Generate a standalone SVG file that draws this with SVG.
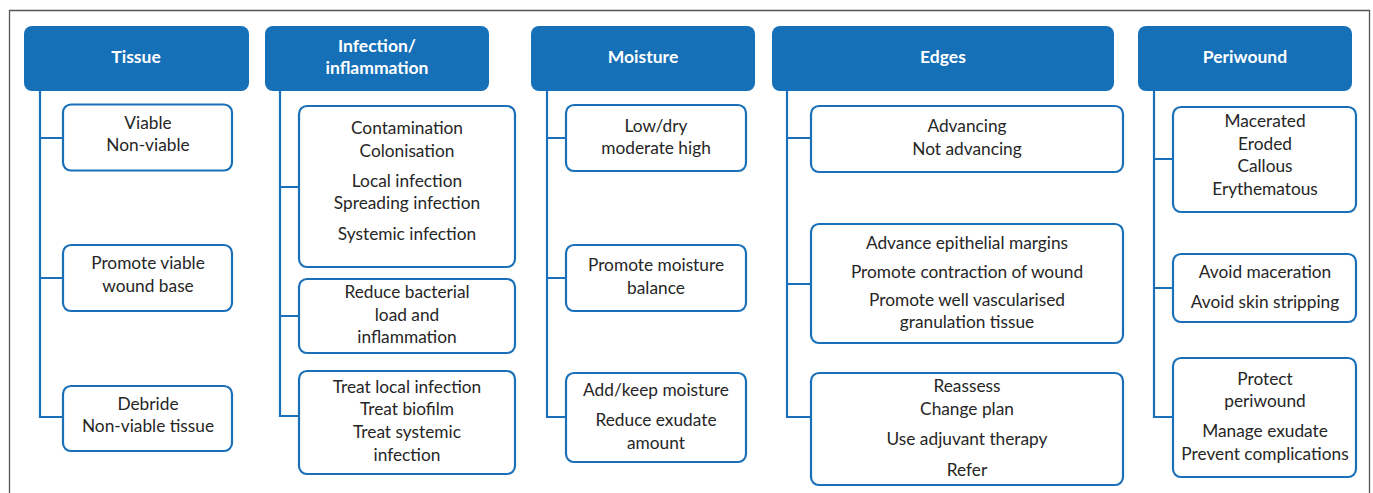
<svg xmlns="http://www.w3.org/2000/svg" width="1373" height="493" viewBox="0 0 1373 493">
<style>
.frame{fill:none;stroke:#555;stroke-width:1.3}
.hdr{fill:#1570b8}
.ht{fill:#fff;font-family:Lato,"Open Sans",sans-serif;font-weight:bold;font-size:17.5px;text-anchor:middle;dominant-baseline:central}
.box{fill:#fff;stroke:#1a70b8;stroke-width:2.2}
.t{fill:#262626;font-family:Lato,"Open Sans",sans-serif;font-size:17.3px;text-anchor:middle;dominant-baseline:central}
.c{fill:none;stroke:#1a70b8;stroke-width:2.2}
</style>
<rect width="1373" height="493" fill="#fff"/>
<path class="frame" d="M9.5 500 V10.5 H1369.5 V500"/>
<g id="connectors">
<path class="c" d="M40 90 V417 H63 M40 138 H63 M40 278 H63"/>
<path class="c" d="M280 90 V416 H299 M280 187 H299 M280 316 H299"/>
<path class="c" d="M547 90 V417 H566 M547 138 H566 M547 278 H566"/>
<path class="c" d="M787 90 V417 H811 M787 138 H811 M787 284 H811"/>
<path class="c" d="M1154 90 V417 H1173 M1154 159 H1173 M1154 288 H1173"/>
</g>
<g id="h-tissue"><rect class="hdr" x="24" y="26" width="225" height="65" rx="8"/><text class="ht" x="136" y="56">Tissue</text></g>
<g id="h-infection"><rect class="hdr" x="265" y="26" width="224" height="65" rx="8"/><text class="ht" x="377" y="45">Infection/</text><text class="ht" x="377" y="67">inflammation</text></g>
<g id="h-moisture"><rect class="hdr" x="531" y="26" width="224" height="65" rx="8"/><text class="ht" x="643" y="56">Moisture</text></g>
<g id="h-edges"><rect class="hdr" x="772" y="26" width="342" height="65" rx="8"/><text class="ht" x="943" y="56">Edges</text></g>
<g id="h-periwound"><rect class="hdr" x="1138" y="26" width="214" height="65" rx="8"/><text class="ht" x="1245" y="56">Periwound</text></g>

<g id="tissue-1"><rect class="box" x="63" y="104.5" width="169" height="66" rx="8"/><text class="t" x="148" y="122">Viable</text><text class="t" x="148" y="144">Non-viable</text></g>
<g id="tissue-2"><rect class="box" x="63" y="245" width="169" height="66" rx="8"/><text class="t" x="148" y="262">Promote viable</text><text class="t" x="148" y="285">wound base</text></g>
<g id="tissue-3"><rect class="box" x="63" y="386" width="169" height="65" rx="8"/><text class="t" x="148" y="403">Debride</text><text class="t" x="148" y="425">Non-viable tissue</text></g>

<g id="inf-1"><rect class="box" x="299" y="106" width="216" height="161" rx="8"/><text class="t" x="407" y="127">Contamination</text><text class="t" x="407" y="150">Colonisation</text><text class="t" x="407" y="180">Local infection</text><text class="t" x="407" y="202">Spreading infection</text><text class="t" x="407" y="233">Systemic infection</text></g>
<g id="inf-2"><rect class="box" x="299" y="279" width="216" height="74" rx="8"/><text class="t" x="407" y="291">Reduce bacterial</text><text class="t" x="407" y="314">load and</text><text class="t" x="407" y="336">inflammation</text></g>
<g id="inf-3"><rect class="box" x="299" y="371" width="216" height="103" rx="8"/><text class="t" x="407" y="386">Treat local infection</text><text class="t" x="407" y="408">Treat biofilm</text><text class="t" x="407" y="431">Treat systemic</text><text class="t" x="407" y="454">infection</text></g>

<g id="moist-1"><rect class="box" x="566" y="105" width="180" height="66" rx="8"/><text class="t" x="656" y="125">Low/dry</text><text class="t" x="656" y="147">moderate high</text></g>
<g id="moist-2"><rect class="box" x="566" y="245" width="180" height="66" rx="8"/><text class="t" x="656" y="264">Promote moisture</text><text class="t" x="656" y="287">balance</text></g>
<g id="moist-3"><rect class="box" x="566" y="373" width="180" height="89" rx="8"/><text class="t" x="656" y="389">Add/keep moisture</text><text class="t" x="656" y="419">Reduce exudate</text><text class="t" x="656" y="442">amount</text></g>

<g id="edges-1"><rect class="box" x="811" y="106" width="312" height="66" rx="8"/><text class="t" x="967" y="125">Advancing</text><text class="t" x="967" y="148">Not advancing</text></g>
<g id="edges-2"><rect class="box" x="811" y="224" width="312" height="119" rx="8"/><text class="t" x="967" y="242">Advance epithelial margins</text><text class="t" x="967" y="271">Promote contraction of wound</text><text class="t" x="967" y="299">Promote well vascularised</text><text class="t" x="967" y="321">granulation tissue</text></g>
<g id="edges-3"><rect class="box" x="811" y="373" width="312" height="112" rx="8"/><text class="t" x="967" y="385">Reassess</text><text class="t" x="967" y="408">Change plan</text><text class="t" x="967" y="438">Use adjuvant therapy</text><text class="t" x="967" y="469">Refer</text></g>

<g id="peri-1"><rect class="box" x="1173" y="107" width="183" height="105" rx="8"/><text class="t" x="1265" y="120">Macerated</text><text class="t" x="1265" y="143">Eroded</text><text class="t" x="1265" y="165">Callous</text><text class="t" x="1265" y="188">Erythematous</text></g>
<g id="peri-2"><rect class="box" x="1173" y="254" width="183" height="68" rx="8"/><text class="t" x="1265" y="271">Avoid maceration</text><text class="t" x="1265" y="301">Avoid skin stripping</text></g>
<g id="peri-3"><rect class="box" x="1173" y="358" width="183" height="119" rx="8"/><text class="t" x="1265" y="378">Protect</text><text class="t" x="1265" y="400">periwound</text><text class="t" x="1265" y="430">Manage exudate</text><text class="t" x="1265" y="453">Prevent complications</text></g>
</svg>
